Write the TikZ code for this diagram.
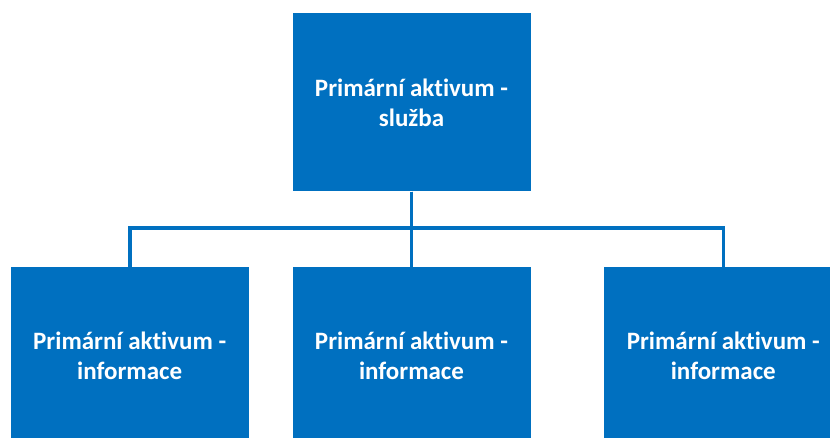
\documentclass[tikz,border=0pt]{standalone}
\usepackage{fontspec}
\setmainfont{Carlito}[Ligatures=NoCommon]
\usetikzlibrary{positioning}
\definecolor{aktblue}{HTML}{0070C0}
\tikzset{
  aktivum/.style={fill=aktblue, draw=none, text=white, align=center,
    minimum width=238pt, minimum height=178pt, inner sep=0pt,
    font=\bfseries\fontsize{25}{30}\selectfont},
  vazba/.style={draw=aktblue, line width=3.6pt}
}
\begin{document}
\begin{tikzpicture}[x=1pt,y=1pt]
  \useasboundingbox (0,0) rectangle (830,438);
  \clip (0,0) rectangle (830,438);
  %boxes
  \node[aktivum] (sluzba) at (411.5,335.5) {Primární aktivum -\\služba};
  \node[aktivum] (info1) at (129.7,82) {Primární aktivum -\\informace};
  \node[aktivum] (info2) at (411.5,82) {Primární aktivum -\\informace};
  \node[aktivum] (info3) at (723.3,82) {Primární aktivum -\\informace};
  %links
  \foreach \n in {info1,info2,info3}
      \draw[vazba] (sluzba.south) -- ++(0,-36.5) -| (\n.north);
\end{tikzpicture}
\end{document}
